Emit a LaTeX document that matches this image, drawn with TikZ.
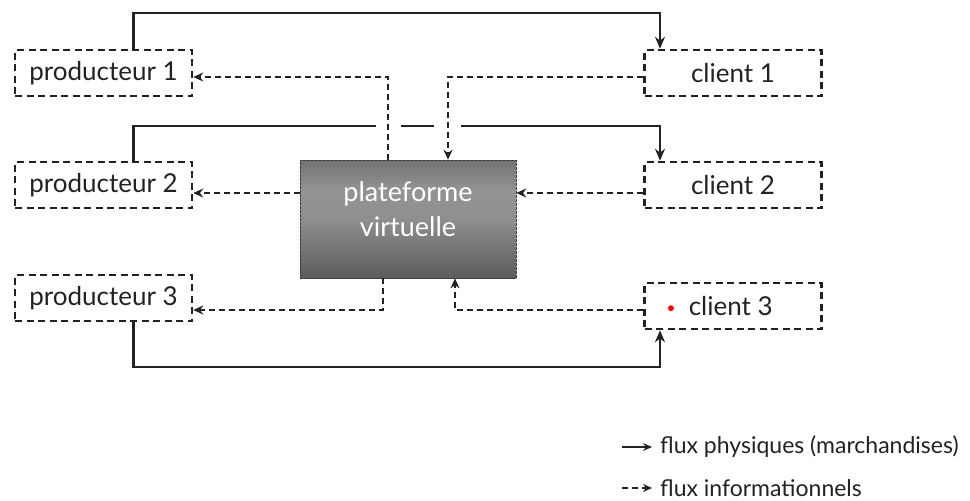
\documentclass[tikz,border=0pt]{standalone}
\usepackage{fontspec}
\setmainfont{Lato}
\usetikzlibrary{arrows.meta}
\definecolor{ink}{HTML}{222222}
\definecolor{platedge}{HTML}{3A3A3A}
% vertical grey shading of the platform block: dark edges, light band above the middle
\pgfdeclareverticalshading{platshade}{100bp}{
  color(0bp)=(black!80); color(25bp)=(black!64); color(50bp)=(black!44);
  color(62bp)=(black!42); color(82bp)=(black!62); color(100bp)=(black!76)}
\tikzset{
  actor/.style={draw=ink, line width=2.5pt, dash pattern=on 7pt off 4.5pt,
    minimum width=177pt, minimum height=46pt, inner sep=0pt,
    font=\fontsize{26}{30}\selectfont, text=ink},
  hub/.style={draw=platedge, line width=0.6pt, dash pattern=on 3pt off 1pt,
    minimum width=216pt, minimum height=118pt, inner sep=0pt,
    shading=platshade},
  hubtext/.style={align=center, text=white, inner sep=0pt,
    font=\fontsize{27}{35}\selectfont},
  phys/.style={draw=ink, line width=2.3pt, -{Stealth[length=12pt,width=10pt]}},
  info/.style={draw=ink, line width=1.6pt, dash pattern=on 6pt off 4pt,
    -{Stealth[length=10pt,width=9pt]}},
  gap/.style={draw=white, line width=5pt},
  legend/.style={anchor=west, inner sep=0pt, text=ink,
    font=\fontsize{23}{26}\selectfont}
}
\begin{document}
\begin{tikzpicture}[x=1pt,y=-1pt]
\useasboundingbox (0,0) rectangle (970,501);

% actors
\node[actor] (p1) at (103.5,73) {producteur 1};
\node[actor] (p2) at (103.5,185) {producteur 2};
\node[actor] (p3) at (103.5,298) {producteur 3};
\node[actor] (c1) at (733,73) {client 1};
\node[actor] (c2) at (733,185) {client 2};
\node[actor] (c3) at (733,306) {\hspace*{-26pt}\textcolor{red}{\raisebox{0.2ex}{\scalebox{0.6}{$\bullet$}}}\hspace{14pt}client 3};

% platform block and its caption
\node[hub] (plat) at (408,219) {};
\node[hubtext] (platlabel) at ([yshift=10pt]plat.center) {plateforme\\virtuelle};

% physical flows
\draw[phys] ([xshift=30pt]p1.north) -- ++(0,-36) -| ([xshift=-73pt]c1.north);
\draw[phys] ([xshift=30pt]p2.north) -- ++(0,-35) -| ([xshift=-73pt]c2.north);
\draw[phys] ([xshift=30pt]p3.south) -- ++(0,45) -| ([xshift=-73pt]c3.south);

% breaks in the middle line where the information flows cross it
\coordinate (g1a) at (376,127); \coordinate (g1b) at (401,127);
\coordinate (g2a) at (434,127); \coordinate (g2b) at (461,127);
\draw[gap] (g1a) -- (g1b);
\draw[gap] (g2a) -- (g2b);

% information flows
\draw[info] ([xshift=-20pt]plat.north) |- ([yshift=-4pt]p1.east);
\draw[info] ([yshift=-4pt]c1.west) -| ([xshift=40pt]plat.north);
\draw[info] ([yshift=26pt]plat.west) -- ([yshift=-8pt]p2.east);
\draw[info] ([yshift=-8pt]c2.west) -- ([yshift=26pt]plat.east);
\draw[info] ([xshift=-25pt]plat.south) |- ([yshift=-12pt]p3.east);
\draw[info] ([yshift=-4pt]c3.west) -| ([xshift=47pt]plat.south);

% legend
\node[legend] (l1) at (660,447) {flux physiques (marchandises)};
\node[legend] (l2) at (660,488) {flux informationnels};
\coordinate (l1s) at (622,447);
\coordinate (l2s) at (622,488);
\draw[phys, line width=1.2pt, -{Stealth[length=9pt,width=8pt]}] (l1s) -- ([xshift=-8pt]l1.west);
\draw[info, line width=1.2pt, dash pattern=on 6pt off 4pt, -{Stealth[length=9pt,width=8pt]}] (l2s) -- ([xshift=-8pt]l2.west);
\end{tikzpicture}
\end{document}
